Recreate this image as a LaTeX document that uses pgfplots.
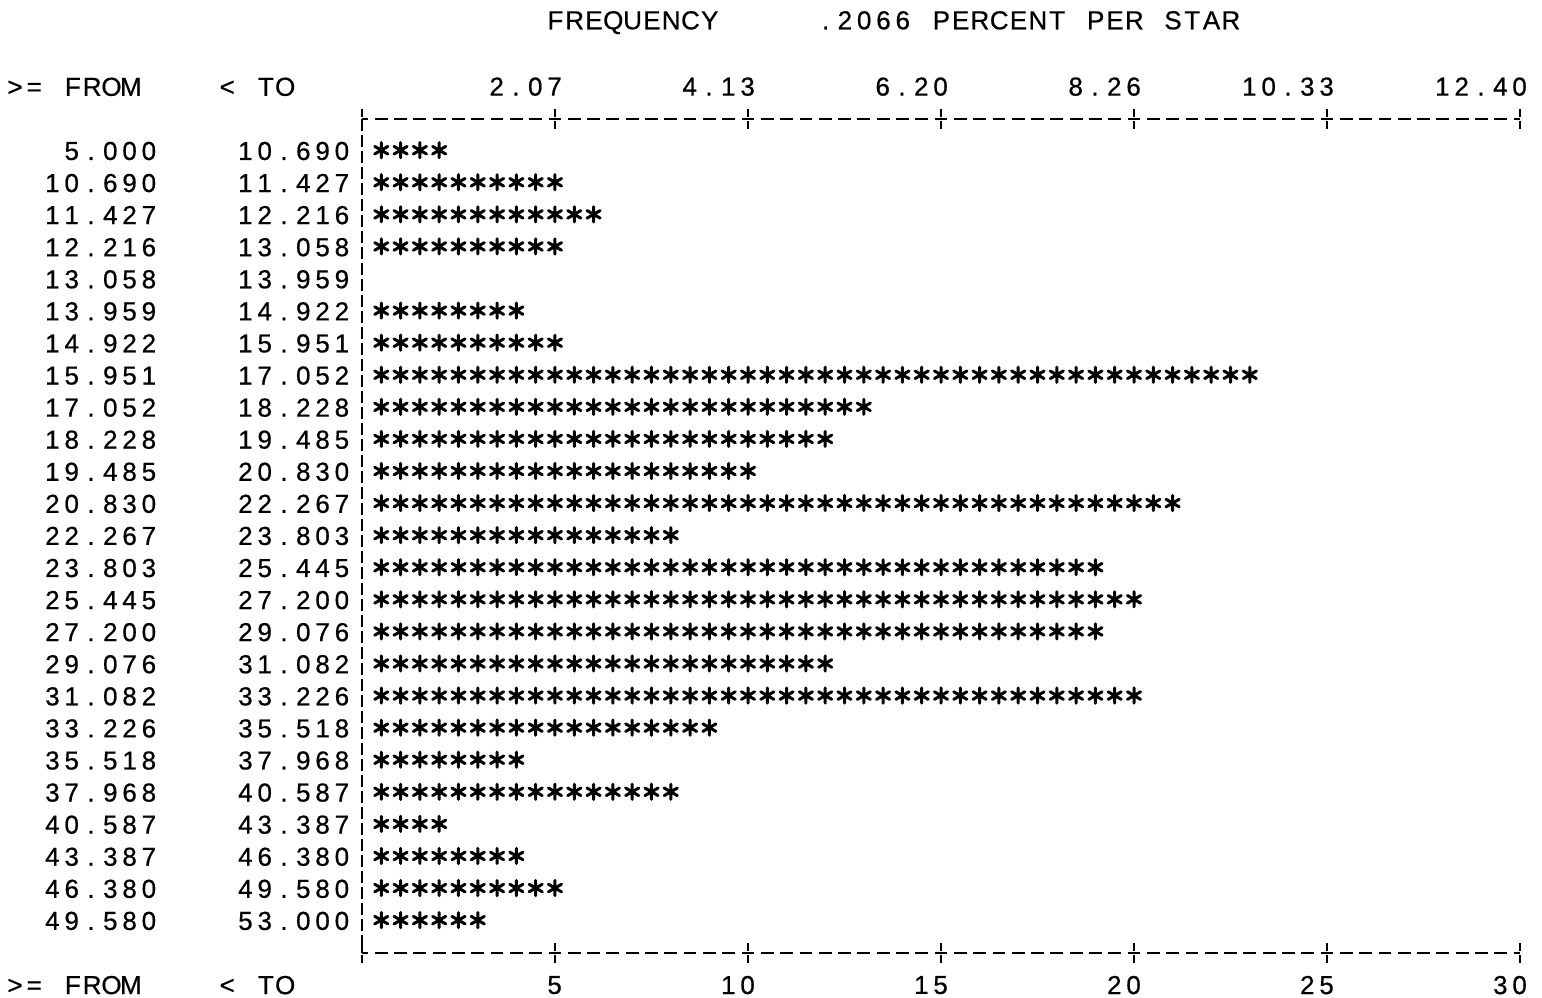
\documentclass[border=0pt]{standalone}
\usepackage{pgfplots}
\pgfplotsset{compat=1.18}
\usepackage{fontspec}
\setmainfont{Liberation Sans}
\newfontfamily\lp{Liberation Sans}[FakeBold=0.6]
\usetikzlibrary{decorations.markings}

\newlength\cw \setlength\cw{9.65pt}
\newcommand\fx[1]{{\lp\fontsize{13}{15}\selectfont\fxi#1\relax}}
\def\fxi#1{\ifx#1\relax\else\makebox[\cw][c]{#1}\expandafter\fxi\fi}

\pgfplotsset{
 geom/.style={x=19.3pt, y=16.04pt, y dir=reverse, xmin=0, xmax=30, ymin=0, ymax=26, clip=false},
 starrow/.style={draw=none, no markers, forget plot, postaction={decorate},
   decoration={markings, mark=between positions 4.825pt and 1 step 9.65pt with
   {\draw[solid, line width=1.5pt, line cap=round, black] (4.825pt,0.4pt) +(90:3.8pt) -- +(270:3.8pt) +(30:3.8pt) -- +(210:3.8pt) +(150:3.8pt) -- +(330:3.8pt);}}},
}

\begin{document}
\begin{tikzpicture}
\begin{axis}[geom,
 axis x line=box, axis y line=left,
 x axis line style={-, line width=1pt, dash pattern=on 6.4pt off 3.25pt, dash phase=3.2pt},
 y axis line style={-, line width=1pt, dash pattern=on 6pt off 2pt},
 xtick={0,5,...,30},
 xticklabels={,\fx{5},\fx{10},\fx{15},\fx{20},\fx{25},\fx{30}},
 tick align=center,
 major tick length=10pt,
 xtick style={line width=1pt, dash pattern=on 4pt off 2pt, black},
 ytick={1,...,25},
 ytick style={draw=none},
 yticklabels={
  \fx{~5.000~~~~10.690},
  \fx{10.690~~~~11.427},
  \fx{11.427~~~~12.216},
  \fx{12.216~~~~13.058},
  \fx{13.058~~~~13.959},
  \fx{13.959~~~~14.922},
  \fx{14.922~~~~15.951},
  \fx{15.951~~~~17.052},
  \fx{17.052~~~~18.228},
  \fx{18.228~~~~19.485},
  \fx{19.485~~~~20.830},
  \fx{20.830~~~~22.267},
  \fx{22.267~~~~23.803},
  \fx{23.803~~~~25.445},
  \fx{25.445~~~~27.200},
  \fx{27.200~~~~29.076},
  \fx{29.076~~~~31.082},
  \fx{31.082~~~~33.226},
  \fx{33.226~~~~35.518},
  \fx{35.518~~~~37.968},
  \fx{37.968~~~~40.587},
  \fx{40.587~~~~43.387},
  \fx{43.387~~~~46.380},
  \fx{46.380~~~~49.580},
  \fx{49.580~~~~53.000}},
 xticklabel style={anchor=east, inner sep=0pt, xshift=4.825pt, yshift=-11.04pt},
 yticklabel style={anchor=east, inner sep=0pt, xshift=0pt},
]
% star counts / 2 (observations per class)
\addplot[starrow] coordinates {(0,1) (2,1)};
\addplot[starrow] coordinates {(0,2) (5,2)};
\addplot[starrow] coordinates {(0,3) (6,3)};
\addplot[starrow] coordinates {(0,4) (5,4)};
\addplot[starrow] coordinates {(0,6) (4,6)};
\addplot[starrow] coordinates {(0,7) (5,7)};
\addplot[starrow] coordinates {(0,8) (23,8)};
\addplot[starrow] coordinates {(0,9) (13,9)};
\addplot[starrow] coordinates {(0,10) (12,10)};
\addplot[starrow] coordinates {(0,11) (10,11)};
\addplot[starrow] coordinates {(0,12) (21,12)};
\addplot[starrow] coordinates {(0,13) (8,13)};
\addplot[starrow] coordinates {(0,14) (19,14)};
\addplot[starrow] coordinates {(0,15) (20,15)};
\addplot[starrow] coordinates {(0,16) (19,16)};
\addplot[starrow] coordinates {(0,17) (12,17)};
\addplot[starrow] coordinates {(0,18) (20,18)};
\addplot[starrow] coordinates {(0,19) (9,19)};
\addplot[starrow] coordinates {(0,20) (4,20)};
\addplot[starrow] coordinates {(0,21) (8,21)};
\addplot[starrow] coordinates {(0,22) (2,22)};
\addplot[starrow] coordinates {(0,23) (4,23)};
\addplot[starrow] coordinates {(0,24) (5,24)};
\addplot[starrow] coordinates {(0,25) (3,25)};

\node[anchor=west, inner sep=0pt] at (axis cs:4.75,-3) {\fx{FREQUENCY~~~~~.2066~PERCENT~PER~STAR}};
\node[anchor=west, inner sep=0pt] at (axis cs:-9.25,-1) {\fx{>=~FROM~~~~<~TO}};
\node[anchor=west, inner sep=0pt] at (axis cs:-9.25,27) {\fx{>=~FROM~~~~<~TO}};
\coordinate (bbA) at (axis cs:-9.378,-3.707);
\coordinate (bbB) at (axis cs:30.57,27.40);
\end{axis}
\begin{axis}[geom,
 axis x line=top, axis y line=none,
 x axis line style={draw=none},
 xtick={5,10,...,30},
 xtick style={draw=none},
 ytick=\empty,
 xticklabels={\fx{2.07},\fx{4.13},\fx{6.20},\fx{8.26},\fx{10.33},\fx{12.40}},
 xticklabel style={anchor=east, inner sep=0pt, xshift=4.825pt, yshift=14pt},
]
\end{axis}
\pgfresetboundingbox
\useasboundingbox (bbA) rectangle (bbB);
\end{tikzpicture}
\end{document}
